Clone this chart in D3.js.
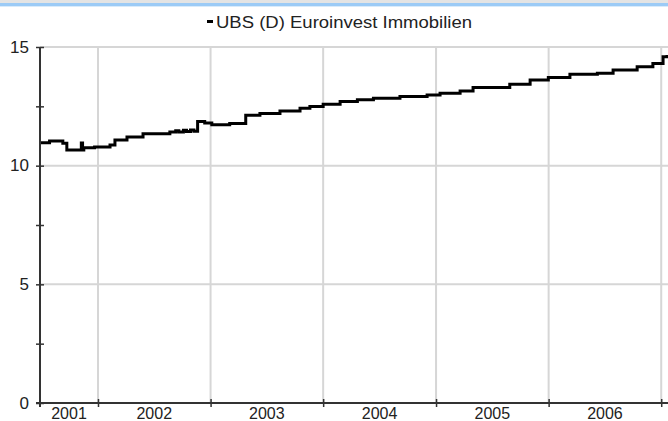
<!DOCTYPE html>
<html>
<head>
<meta charset="utf-8">
<title>UBS (D) Euroinvest Immobilien</title>
<script src="https://d3js.org/d3.v7.min.js"></script>
<style>
  body { margin: 0; background: #fff; }
  svg { display: block; font-family: "Liberation Sans", Arial, sans-serif; }
</style>
</head>
<body>
<div id="chart"></div>
<script>
const seriesName = "UBS (D) Euroinvest Immobilien";

const dates = [
  "2001-06-28", "2001-07-28", "2001-09-09", "2001-09-22", "2001-11-08", "2001-11-12",
  "2001-11-16", "2001-12-21", "2002-02-09", "2002-02-25", "2002-04-05", "2002-05-27",
  "2002-08-22", "2002-09-10", "2002-09-20", "2002-10-05", "2002-10-15", "2002-10-28",
  "2002-11-08", "2002-11-20", "2002-12-13", "2003-01-05", "2003-03-04", "2003-04-25",
  "2003-06-10", "2003-08-14", "2003-10-18", "2003-11-19", "2004-01-01", "2004-02-25",
  "2004-04-21", "2004-06-12", "2004-09-06", "2004-12-03", "2005-01-14", "2005-03-20",
  "2005-05-01", "2005-07-17", "2005-08-28", "2005-11-02", "2005-12-31", "2006-03-11",
  "2006-06-08", "2006-07-29", "2006-10-15", "2006-12-05", "2007-01-07", "2007-01-20"
];
const prices = [
  10.97, 11.04, 10.94, 10.66, 10.96, 10.66,
  10.75, 10.79, 10.87, 11.08, 11.21, 11.34,
  11.42, 11.47, 11.42, 11.49, 11.44, 11.5,
  11.45, 11.86, 11.8, 11.72, 11.78, 12.12,
  12.2, 12.3, 12.42, 12.49, 12.59, 12.7,
  12.78, 12.84, 12.91, 12.98, 13.05, 13.15,
  13.29, 13.29, 13.43, 13.61, 13.72, 13.85,
  13.89, 14.03, 14.17, 14.31, 14.59, 14.66
];

const yTicks = [0, 2.5, 5, 7.5, 10, 12.5, 15];
const yearTicks = ["2002-01-01", "2003-01-01", "2004-01-01", "2005-01-01", "2006-01-01", "2007-01-01"];
const yearLabels = ["2001", "2002", "2003", "2004", "2005", "2006"];

const width = 668, height = 421;
const plotLeft = 40, plotRight = 668, plotTop = 47, plotBottom = 403;

const parse = d3.utcParse("%Y-%m-%d");
const data = dates.map((d, i) => ({ date: parse(d), value: prices[i] }));

const svg = d3.select("#chart").append("svg")
  .attr("width", width)
  .attr("height", height);

// top window band
svg.append("rect").attr("x", 0).attr("y", 0).attr("width", width).attr("height", 3).attr("fill", "#e4e4e4");
svg.append("rect").attr("x", 0).attr("y", 3).attr("width", width).attr("height", 3).attr("fill", "#9ccbf6");
svg.append("rect").attr("x", 0).attr("y", 6).attr("width", width).attr("height", 1).attr("fill", "#d9ebfb");

const x = d3.scaleUtc()
  .domain([parse("2001-06-27"), parse("2007-01-23")])
  .range([plotLeft, plotRight]);

const y = d3.scaleLinear()
  .domain([0, 15])
  .range([plotBottom, plotTop]);

// grid
svg.append("g").selectAll("line")
  .data([5, 10, 15])
  .join("line")
  .attr("x1", plotLeft).attr("x2", plotRight)
  .attr("y1", d => y(d)).attr("y2", d => y(d))
  .attr("stroke", "#d6d6d6").attr("stroke-width", 2);

svg.append("g").selectAll("line")
  .data(yearTicks.map(parse))
  .join("line")
  .attr("x1", d => x(d)).attr("x2", d => x(d))
  .attr("y1", plotTop).attr("y2", plotBottom)
  .attr("stroke", "#d6d6d6").attr("stroke-width", 2);

// line
const line = d3.line()
  .x(d => x(d.date))
  .y(d => y(d.value))
  .curve(d3.curveStepAfter);

svg.append("path")
  .datum(data)
  .attr("fill", "none")
  .attr("stroke", "#000")
  .attr("stroke-width", 3)
  .attr("d", line);

// y axis
const yAxis = svg.append("g")
  .attr("transform", `translate(${plotLeft},0)`)
  .call(d3.axisLeft(y).tickValues(yTicks).tickSize(4).tickPadding(7)
    .tickFormat(d => d % 5 === 0 ? d3.format("d")(d) : ""));
yAxis.select(".domain").remove();
yAxis.selectAll(".tick line").attr("x1", -4).attr("x2", 4).attr("stroke", "#333").attr("stroke-width", 1.5);
yAxis.selectAll(".tick text").attr("font-size", 17).attr("fill", "#222")
  .attr("font-family", "Liberation Sans, Arial, sans-serif").attr("dy", "0.3em");
svg.append("line")
  .attr("x1", plotLeft).attr("x2", plotLeft).attr("y1", plotTop).attr("y2", plotBottom + 4)
  .attr("stroke", "#333").attr("stroke-width", 2);

// x axis
const xAxis = svg.append("g")
  .attr("transform", `translate(0,${plotBottom})`)
  .call(d3.axisBottom(x).tickValues(yearTicks.map(parse)).tickSize(4).tickFormat(""));
xAxis.select(".domain").remove();
xAxis.selectAll(".tick line").attr("y1", -4).attr("y2", 4).attr("stroke", "#333").attr("stroke-width", 1.5);
svg.append("line")
  .attr("x1", plotLeft - 4).attr("x2", plotRight).attr("y1", plotBottom).attr("y2", plotBottom)
  .attr("stroke", "#333").attr("stroke-width", 2);

svg.append("g").selectAll("text")
  .data(yearLabels)
  .join("text")
  .attr("x", d => {
    const a = Math.max(x(parse(d + "-01-01")), plotLeft);
    const b = Math.min(x(parse((+d + 1) + "-01-01")), plotRight);
    return (a + b) / 2;
  })
  .attr("y", 419)
  .attr("text-anchor", "middle")
  .attr("font-size", 16)
  .attr("fill", "#222")
  .text(d => d);

// legend / title
const legend = svg.append("g");
legend.append("rect")
  .attr("x", 207).attr("y", 20).attr("width", 6).attr("height", 3)
  .attr("fill", "#000");
legend.append("text")
  .attr("x", 216).attr("y", 28)
  .attr("font-size", 16)
  .attr("textLength", 256)
  .attr("lengthAdjust", "spacingAndGlyphs")
  .attr("fill", "#222")
  .text(seriesName);
</script>
</body>
</html>
